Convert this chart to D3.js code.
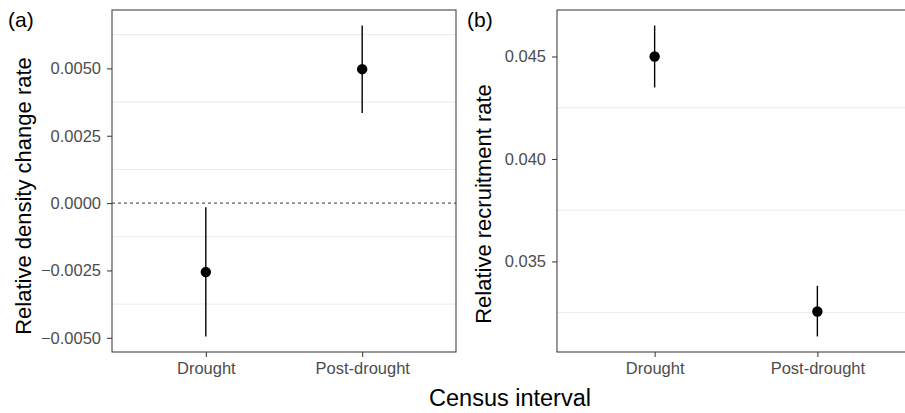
<!DOCTYPE html>
<html>
<head>
<meta charset="utf-8">
<script src="https://cdn.jsdelivr.net/npm/d3@7"></script>
<style>
  body { margin: 0; background: #fff; }
  svg { display: block; font-family: "Liberation Sans", Arial, sans-serif; }
</style>
</head>
<body>
<svg id="chart" width="905" height="413"></svg>
<script>
// census intervals
var categories = ["Drought", "Post-drought"];

// (a) relative density change rate: mean and interval
var densityMean = [-0.00256, 0.00497];
var densityLow  = [-0.00495, 0.00334];
var densityHigh = [-0.00015, 0.00659];

// (b) relative recruitment rate
var recruitMean = [0.04500, 0.03256];
var recruitLow  = [0.04349, 0.03134];
var recruitHigh = [0.04651, 0.03381];

var densityTicks = [-0.005, -0.0025, 0, 0.0025, 0.005];
var recruitTicks = [0.035, 0.040, 0.045];

var svg = d3.select("#chart");

function fmt(d, digits) {
	var s = d3.format("." + digits + "f")(d);
	return s.replace("-", "\u2212");
}

function drawPanel(opts) {
	var left = opts.left, right = opts.right, top = 10, bottom = 352;

	var lo = d3.min(opts.low), hi = d3.max(opts.high);
	var pad = (hi - lo) * 0.05;
	var y = d3.scaleLinear().domain([lo - pad, hi + pad]).range([bottom, top]);
	// discrete axis with ggplot-like 0.6 expansion
	var x = d3.scaleLinear().domain([0.4, 2.6]).range([left, right]);

	var g = svg.append("g");

	// minor gridlines (halfway between ticks)
	var step = opts.ticks[1] - opts.ticks[0];
	var minors = [];
	for (var i = -1; i < opts.ticks.length; i += 1) {
		var v = opts.ticks[0] + step * (i + 0.5);
		if (v > y.domain()[0] && v < y.domain()[1]) minors.push(v);
	}
	g.selectAll(".minor").data(minors).enter().append("line")
		.attr("x1", left).attr("x2", right)
		.attr("y1", d => y(d)).attr("y2", d => y(d))
		.style("stroke", "#ebebeb").style("stroke-width", 1);

	if (opts.zeroLine) {
		g.append("line")
			.attr("x1", left).attr("x2", right)
			.attr("y1", y(0)).attr("y2", y(0))
			.style("stroke", "#000").style("stroke-width", 0.8)
			.style("stroke-dasharray", "3,3");
	}

	// error bars and points
	var rows = categories.map((c, i) => ({ i: i + 1, mean: opts.mean[i], low: opts.low[i], high: opts.high[i] }));
	g.selectAll(".err").data(rows).enter().append("line")
		.attr("x1", d => x(d.i)).attr("x2", d => x(d.i))
		.attr("y1", d => y(d.low)).attr("y2", d => y(d.high))
		.style("stroke", "#000").style("stroke-width", 1.4);
	g.selectAll(".pt").data(rows).enter().append("circle")
		.attr("cx", d => x(d.i)).attr("cy", d => y(d.mean)).attr("r", 5.2)
		.style("fill", "#000");

	// panel border
	g.append("rect")
		.attr("x", left).attr("y", top)
		.attr("width", right - left).attr("height", bottom - top)
		.style("fill", "none").style("stroke", "#333").style("stroke-width", 1);

	// y axis
	var yAxis = g.append("g").attr("transform", `translate(${ left },0)`)
		.call(d3.axisLeft(y).tickValues(opts.ticks).tickSize(5).tickPadding(6)
			.tickFormat(d => fmt(d, opts.digits)));
	yAxis.select(".domain").remove();
	yAxis.selectAll("line").style("stroke", "#333");
	yAxis.selectAll("text").style("fill", "#4d4d4d").style("font-size", "16.5px")
		.style("font-family", "Liberation Sans, Arial, sans-serif");

	// x axis
	var xAxis = g.append("g").attr("transform", `translate(0,${ bottom })`)
		.call(d3.axisBottom(x).tickValues([1, 2]).tickSize(5).tickPadding(5)
			.tickFormat(d => categories[d - 1]));
	xAxis.select(".domain").remove();
	xAxis.selectAll("line").style("stroke", "#333");
	xAxis.selectAll("text").style("fill", "#4d4d4d").style("font-size", "16.5px")
		.style("font-family", "Liberation Sans, Arial, sans-serif");

	// y title
	g.append("text").text(opts.title)
		.attr("transform", `translate(${ opts.titleX },${ opts.titleY }) rotate(-90)`)
		.style("text-anchor", "middle").style("font-size", "22px").style("fill", "#000");

	// panel tag
	g.append("text").text(opts.tag)
		.attr("x", opts.tagX).attr("y", 27)
		.style("font-size", "21px").style("fill", "#000");
}

drawPanel({
	left: 112, right: 456, mean: densityMean, low: densityLow, high: densityHigh,
	ticks: densityTicks, digits: 4, zeroLine: true,
	title: "Relative density change rate", titleX: 31, titleY: 196,
	tag: "(a)", tagX: 8
});

drawPanel({
	left: 557, right: 915, mean: recruitMean, low: recruitLow, high: recruitHigh,
	ticks: recruitTicks, digits: 3, zeroLine: false,
	title: "Relative recruitment rate", titleX: 491, titleY: 204,
	tag: "(b)", tagX: 467
});

svg.append("text").text("Census interval")
	.attr("x", 510).attr("y", 406)
	.style("text-anchor", "middle").style("font-size", "23.5px").style("fill", "#000");
</script>
</body>
</html>
